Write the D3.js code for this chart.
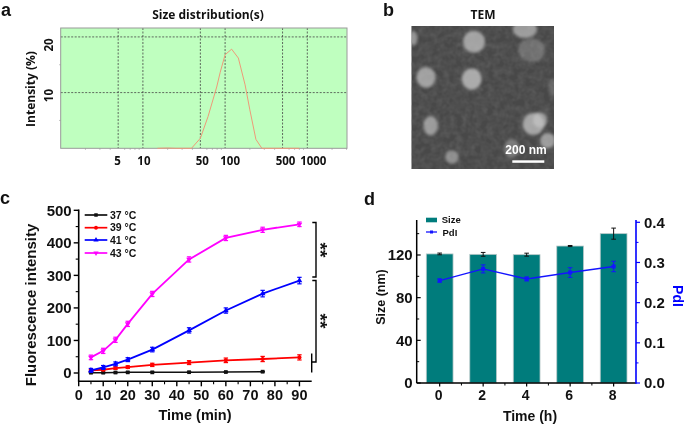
<!DOCTYPE html>
<html><head><meta charset="utf-8">
<script src="https://cdn.jsdelivr.net/npm/d3@7"></script>
<style>
html,body{margin:0;padding:0;background:#fff}
svg{display:block}
text{font-family:"Liberation Sans",Arial,sans-serif;font-weight:bold;fill:#111}
.soft{font-family:"Open Sans","Noto Sans",sans-serif;font-weight:700}
</style></head><body>
<div id="chart"></div>
<script>
// Panel a
const sizeD = [15,20,25,32,39,50,62,79,87,100,120,145,175,200,237,280,400,800];
const intensity = [0,0.05,0,0,0,1.8,5.7,11,13.6,16.8,17.8,16.2,11.4,6.9,1.6,0,0,0];
const sizeTicks = [5,10,50,100,500,1000];
const minorSizeTicks = [2,3,4,6,7,8,9,20,30,40,60,70,80,90,200,300,400,600,700,800,900,2000,3000];
const intensityTicks = [10,20];
// Panel b
const blobs = [
 {x:130,y:115,rx:12,ry:22,o:.6},{x:312,y:125,rx:33,ry:33,o:.72},{x:465,y:88,rx:36,ry:26,o:.66},
 {x:485,y:150,rx:40,ry:36,o:.3},{x:168,y:232,rx:29,ry:31,o:.7},{x:305,y:237,rx:30,ry:32,o:.78},
 {x:182,y:377,rx:22,ry:29,o:.66},{x:490,y:372,rx:32,ry:33,o:.74},{x:510,y:360,rx:21,ry:23,o:.66},
 {x:533,y:422,rx:23,ry:23,o:.66},{x:425,y:445,rx:23,ry:27,o:.38},{x:246,y:471,rx:20,ry:20,o:.56},
 {x:548,y:260,rx:14,ry:26,o:.2}];
// Panel c
const timeC = [5,10,15,20,30,45,60,75,90];
const seriesNames = ["37 °C","39 °C","41 °C","43 °C"];
const seriesColors = ["#111111","#ff0000","#0000ff","#ff00ff"];
const seriesSymbols = [d3.symbolSquare,d3.symbolCircle,d3.symbolTriangle,d3.symbolTriangle];
const v37 = [1,1,1.5,2,2,2.5,3,4];
const v39 = [8,10,15,18,25,32,39,43,48];
const v41 = [8,17,28,41,72,131,192,244,284];
const v43 = [48,68,102,151,243,349,415,440,457];
const e37 = [1,1,1,1,1,1,1,1];
const e39 = [3,3,4,4,5,6,7,8,8];
const e41 = [6,6,6,6,7,8,8,10,10];
const e43 = [7,8,8,8,8,8,8,8,7];
const ticksCx = [0,10,20,30,40,50,60,70,80,90];
const ticksCy = [0,100,200,300,400,500];
// Panel d
const timeD = ["0","2","4","6","8"];
const sizeNm = [121,120.6,120.3,128.4,140];
const sizeErr = [0.8,1.8,1.4,0.5,5.2];
const pdi = [0.255,0.284,0.259,0.275,0.29];
const pdiErr = [0.004,0.01,0.005,0.012,0.013];
const ticksSize = [0,40,80,120];
const ticksPdi = [0,0.1,0.2,0.3,0.4];

const svg = d3.select("#chart").append("svg").attr("width",685).attr("height",424);
const defs = svg.append("defs");
defs.append("filter").attr("id","blobBlur").attr("x","-30%").attr("y","-30%").attr("width","160%").attr("height","160%").append("feGaussianBlur").attr("stdDeviation",1.8);
const nf = defs.append("filter").attr("id","grain").attr("x",0).attr("y",0).attr("width",1).attr("height",1).attr("color-interpolation-filters","sRGB");
nf.append("feTurbulence").attr("type","fractalNoise").attr("baseFrequency",0.16).attr("numOctaves",2).attr("seed",4);
nf.append("feColorMatrix").attr("type","matrix").attr("values","0 0 0 0 0.42  0 0 0 0 0.42  0 0 0 0 0.42  .6 .6 0 0 -.42");
defs.append("clipPath").attr("id","temClip").append("rect").attr("x",411.3).attr("y",26).attr("width",142.7).attr("height",143);
const root = svg.append("g").style("filter","blur(0.35px)");

const label=(t,x,y,s,o={})=>{const e=root.append("text").text(t).attr("x",x).attr("y",y).attr("font-size",s)
  .attr("text-anchor",o.a||"start");
  if(o.cls)e.attr("class",o.cls); if(o.fill)e.style("fill",o.fill);
  if(o.rot!=null)e.attr("transform",`rotate(${o.rot} ${x} ${y})`); return e;};
label("a",1,16,18); label("b",383,16,18); label("c",0,204,18); label("d",364,205,18);

/* ---------- a ---------- */
{
 const L=60.7,R=347,T=28,B=148.3;
 const x=d3.scaleLog().domain([1,3040]).range([L,R]);
 const y=d3.scaleLinear().domain([0,21.6]).range([B,T]);
 const g=root.append("g");
 g.append("rect").attr("x",L).attr("y",T).attr("width",R-L).attr("height",B-T).attr("fill","#bfffbf");
 g.selectAll(".mx").data(minorSizeTicks).join("line").attr("x1",d=>x(d)).attr("x2",d=>x(d)).attr("y1",B).attr("y2",B+1.5).attr("stroke","#999").attr("stroke-width",.7);
 g.selectAll(".my").data([5,15]).join("line").attr("x1",L-1.5).attr("x2",L).attr("y1",d=>y(d)).attr("y2",d=>y(d)).attr("stroke","#999").attr("stroke-width",.7);
 g.selectAll(".gx").data(sizeTicks).join("line").attr("x1",d=>x(d)).attr("x2",d=>x(d)).attr("y1",T).attr("y2",B).attr("stroke","#444").attr("stroke-width",.8).attr("stroke-dasharray","2 1.5");
 g.selectAll(".gy").data(intensityTicks).join("line").attr("x1",L).attr("x2",R).attr("y1",d=>y(d)).attr("y2",d=>y(d)).attr("stroke","#444").attr("stroke-width",.8).attr("stroke-dasharray","2 1.5");
 g.append("rect").attr("x",L).attr("y",T).attr("width",R-L).attr("height",B-T).attr("fill","none").attr("stroke","#9a9a9a").attr("stroke-width",1);
 g.append("path").datum(sizeD.map((s,i)=>[s,intensity[i]])).attr("fill","none").attr("stroke","#ee9a78").attr("stroke-width",1)
  .attr("d",d3.line().x(d=>x(d[0])).y(d=>y(d[1])));
 const off={5:-.5,10:1,50:2,100:5,500:3,1000:6};
 sizeTicks.forEach(t=>label(t,x(t)+off[t],165,11.5,{a:"middle",cls:"soft"}));
 const offY={10:3,20:8};
 intensityTicks.forEach(t=>label(t,53,y(t)+offY[t],11.5,{a:"middle",cls:"soft",rot:-90}));
 label("Intensity (%)",35,89,12,{a:"middle",cls:"soft",rot:-90});
 label("Size distribution(s)",208,19,12,{a:"middle",cls:"soft"});
}

/* ---------- b ---------- */
{
 const g=root.append("g").attr("clip-path","url(#temClip)");
 g.append("rect").attr("x",411.3).attr("y",26).attr("width",142.7).attr("height",143).attr("fill","#484848");
 g.append("rect").attr("x",411.3).attr("y",26).attr("width",142.7).attr("height",143).attr("filter","url(#grain)");
 const bx=d3.scaleLinear().domain([0,600]).range([370,570]);
 const by=d3.scaleLinear().domain([0,540]).range([0,180]);
 g.selectAll("ellipse").data(blobs).join("ellipse")
  .attr("cx",d=>bx(d.x)).attr("cy",d=>by(d.y)).attr("rx",d=>d.rx/3).attr("ry",d=>d.ry/3)
  .attr("fill","#c6c6c6").attr("opacity",d=>d.o).attr("filter","url(#blobBlur)");
 label("TEM",483,19,12,{a:"middle",cls:"soft"});
 label("200 nm",526,154,12,{a:"middle",fill:"#fff"});
 root.append("rect").attr("x",512.3).attr("y",160.3).attr("width",32).attr("height",2.5).attr("fill","#fff");
}

/* ---------- c ---------- */
{
 const x=d3.scaleLinear().domain([0,95]).range([78.7,311.7]);
 const y=d3.scaleLinear().domain([0,500]).range([373,210.3]);
 const B=381.3;
 const g=root.append("g");
 const axW=1.6;
 g.append("line").attr("x1",x(0)).attr("x2",x(0)).attr("y1",y(500)-.8).attr("y2",B).attr("stroke","#000").attr("stroke-width",axW);
 g.append("line").attr("x1",x(0)-.8).attr("x2",x(95)).attr("y1",B).attr("y2",B).attr("stroke","#000").attr("stroke-width",axW);
 ticksCx.forEach(t=>{g.append("line").attr("x1",x(t)).attr("x2",x(t)).attr("y1",B).attr("y2",B+5).attr("stroke","#000").attr("stroke-width",1.4);
   label(t,x(t),B+19,14.5,{a:"middle"});});
 ticksCx.slice(0,-1).forEach(t=>g.append("line").attr("x1",x(t+5)).attr("x2",x(t+5)).attr("y1",B).attr("y2",B+3).attr("stroke","#000").attr("stroke-width",1.1));
 ticksCy.forEach(t=>{g.append("line").attr("x1",x(0)-5).attr("x2",x(0)).attr("y1",y(t)).attr("y2",y(t)).attr("stroke","#000").attr("stroke-width",1.4);
   label(t,x(0)-7,y(t)+5.3,15,{a:"end"});});
 ticksCy.slice(0,-1).forEach(t=>g.append("line").attr("x1",x(0)-3).attr("x2",x(0)).attr("y1",y(t+50)).attr("y2",y(t+50)).attr("stroke","#000").attr("stroke-width",1.1));
 label("Fluorescence intensity",36,305,15,{a:"middle",rot:-90});
 label("Time (min)",195,420,14.5,{a:"middle"});
 const all=[v37,v39,v41,v43], errs=[e37,e39,e41,e43];
 all.forEach((vals,si)=>{
  const c=seriesColors[si];
  const pts=vals.map((v,i)=>({t:timeC[i],v,e:errs[si][i]}));
  const sg=g.append("g");
  sg.append("path").datum(pts).attr("fill","none").attr("stroke",c).attr("stroke-width",si==0?1.5:1.8)
    .attr("d",d3.line().x(d=>x(d.t)).y(d=>y(d.v)));
  const eb=sg.selectAll("g").data(pts).join("g").attr("stroke",c).attr("stroke-width",1.2);
  eb.append("line").attr("x1",d=>x(d.t)).attr("x2",d=>x(d.t)).attr("y1",d=>y(d.v-d.e)).attr("y2",d=>y(d.v+d.e));
  [-1,1].forEach(k=>eb.append("line").attr("x1",d=>x(d.t)-2.2).attr("x2",d=>x(d.t)+2.2).attr("y1",d=>y(d.v+k*d.e)).attr("y2",d=>y(d.v+k*d.e)));
  sg.selectAll("path.m").data(pts).join("path").attr("class","m").attr("fill",c)
    .attr("d",d3.symbol().type(seriesSymbols[si]).size(14))
    .attr("transform",d=>`translate(${x(d.t)},${y(d.v)})${si==3?" rotate(180)":""}`);
 });
 const legY=[215,227.7,240,253];
 seriesNames.forEach((n,i)=>{
  g.append("line").attr("x1",84.7).attr("x2",107.3).attr("y1",legY[i]).attr("y2",legY[i]).attr("stroke",seriesColors[i]).attr("stroke-width",1.7);
  g.append("path").attr("fill",seriesColors[i]).attr("d",d3.symbol().type(seriesSymbols[i]).size(12)())
   .attr("transform",`translate(96,${legY[i]})${i==3?" rotate(180)":""}`);
  label(n,110,legY[i]+3.7,10.5);
 });
 const br=root.append("g").attr("fill","none").attr("stroke","#000").attr("stroke-width",1.4);
 br.append("path").attr("d",d3.line()([[312.3,222.5],[316,222.5],[316,277],[312.3,277]]));
 br.append("path").attr("d",d3.line()([[312.3,280.5],[316,280.5],[316,362],[311.7,362]]));
 br.append("path").attr("d",d3.line()([[311.7,353.5],[311.7,372.5]]));
 label("**",314,250,19,{a:"middle",rot:90});
 label("**",314,321,19,{a:"middle",rot:90});
}

/* ---------- d ---------- */
{
 const L=416.7,R=636,B=383,T=220;
 const x=d3.scaleBand().domain(timeD).range([426.3,627]).paddingInner(0.385).paddingOuter(0);
 const cx=d=>x(d)+x.bandwidth()/2;
 const y=d3.scaleLinear().domain([0,152.8]).range([B,T]);
 const y2=d3.scaleLinear().domain([0,0.4]).range([B,222.3]);
 const g=root.append("g");
 g.selectAll("rect").data(timeD).join("rect").attr("x",d=>x(d)).attr("width",x.bandwidth())
  .attr("y",(d,i)=>y(sizeNm[i])).attr("height",(d,i)=>B-y(sizeNm[i])).attr("fill","#007c7c").attr("stroke","#b9c9c9").attr("stroke-width",.8);
 const eb=(vals,errs,sc,c)=>{timeD.forEach((d,i)=>{const X=cx(d);
   g.append("line").attr("x1",X).attr("x2",X).attr("y1",sc(vals[i]-errs[i])).attr("y2",sc(vals[i]+errs[i])).attr("stroke",c).attr("stroke-width",1);
   [-1,1].forEach(k=>g.append("line").attr("x1",X-2.3).attr("x2",X+2.3).attr("y1",sc(vals[i]+k*errs[i])).attr("y2",sc(vals[i]+k*errs[i])).attr("stroke",c).attr("stroke-width",1));});};
 eb(sizeNm,sizeErr,y,"#111");
 g.append("path").datum(pdi).attr("fill","none").attr("stroke","#1414ff").attr("stroke-width",1.4)
  .attr("d",d3.line().x((d,i)=>cx(timeD[i])).y(d=>y2(d)));
 eb(pdi,pdiErr,y2,"#1414ff");
 g.selectAll("rect.p").data(pdi).join("rect").attr("class","p").attr("width",4).attr("height",4).attr("fill","#1414ff")
  .attr("x",(d,i)=>cx(timeD[i])-2).attr("y",d=>y2(d)-2);
 // axes
 g.append("line").attr("x1",L).attr("x2",L).attr("y1",T).attr("y2",B).attr("stroke","#000").attr("stroke-width",1.5);
 g.append("line").attr("x1",L).attr("x2",R).attr("y1",B).attr("y2",B).attr("stroke","#000").attr("stroke-width",1.5);
 g.append("line").attr("x1",R).attr("x2",R).attr("y1",T).attr("y2",B+.7).attr("stroke","#0000ff").attr("stroke-width",1.6);
 ticksSize.forEach(t=>{g.append("line").attr("x1",L).attr("x2",L+4).attr("y1",y(t)).attr("y2",y(t)).attr("stroke","#000").attr("stroke-width",1.2);
   label(t,L-4,y(t)+5.4,15,{a:"end"});});
 [20,60,100,140].forEach(t=>g.append("line").attr("x1",L).attr("x2",L+2.5).attr("y1",y(t)).attr("y2",y(t)).attr("stroke","#000"));
 ticksPdi.forEach(t=>{g.append("line").attr("x1",R).attr("x2",R+4).attr("y1",y2(t)).attr("y2",y2(t)).attr("stroke","#0000ff").attr("stroke-width",1.2);
   label(d3.format(".1f")(t),R+8,y2(t)+5.4,15,{});});
 [.05,.15,.25,.35].forEach(t=>g.append("line").attr("x1",R).attr("x2",R+2.5).attr("y1",y2(t)).attr("y2",y2(t)).attr("stroke","#0000ff"));
 timeD.forEach((d,i)=>{g.append("line").attr("x1",cx(d)).attr("x2",cx(d)).attr("y1",B).attr("y2",B+3.5).attr("stroke","#000").attr("stroke-width",1.2);
   label(d,cx(d)-1,B+17,14,{a:"middle"});
   if(i<4)g.append("line").attr("x1",cx(d)+21.75).attr("x2",cx(d)+21.75).attr("y1",B).attr("y2",B+2.5).attr("stroke","#000");});
 label("Size (nm)",385,297,12.5,{a:"middle",rot:-90});
 label("PdI",673,296,14,{a:"middle",rot:90,fill:"#0000ff"});
 label("Time (h)",530,421,14,{a:"middle"});
 // legend
 g.append("rect").attr("x",426).attr("y",217.7).attr("width",11).attr("height",4.6).attr("fill","#007c7c");
 label("Size",441.7,223,9.5);
 g.append("line").attr("x1",426).attr("x2",437).attr("y1",232).attr("y2",232).attr("stroke","#1414ff").attr("stroke-width",1.3);
 g.append("rect").attr("x",430).attr("y",230.5).attr("width",3).attr("height",3).attr("fill","#1414ff");
 label("PdI",442.5,235.5,9.5);
}
</script></body></html>
